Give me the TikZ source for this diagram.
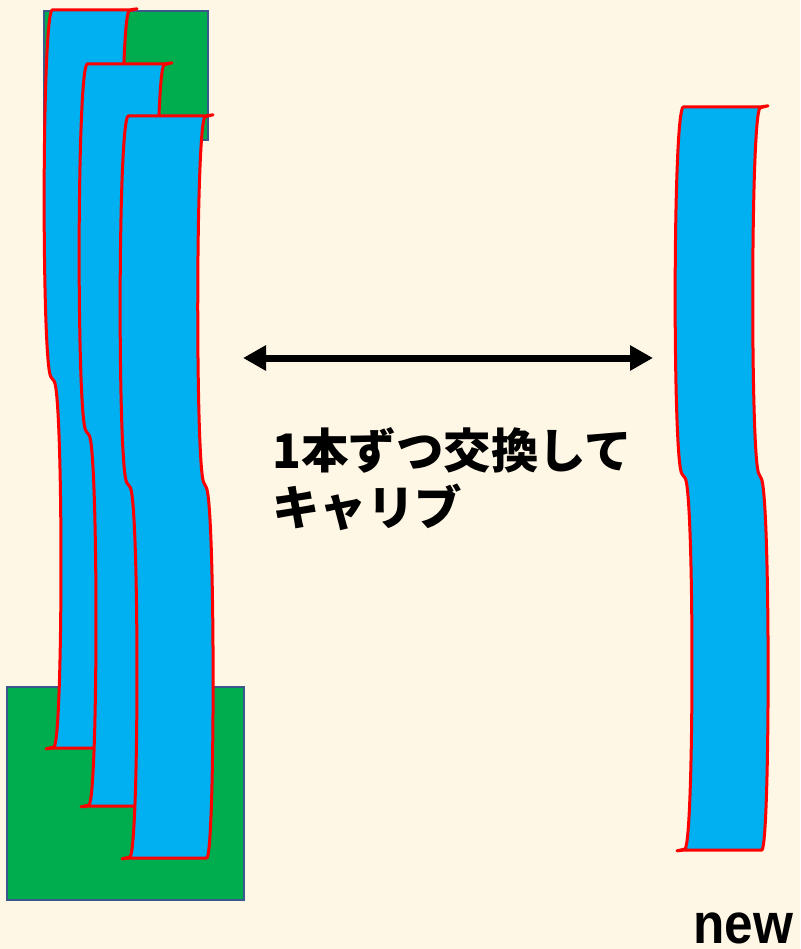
\documentclass[tikz,border=0pt]{standalone}
\usepackage{fontspec}
\setmainfont{Liberation Sans}
\newfontfamily\cjk{Noto Sans CJK JP}
\usetikzlibrary{arrows.meta}
\definecolor{bg}{HTML}{FFF7E5}
\definecolor{boardgreen}{HTML}{00AD4E}
\definecolor{boardedge}{HTML}{3A5A8E}
\definecolor{stripblue}{HTML}{00B0F0}
\newcommand\bandstrip[3]{%
  \begin{scope}[shift={(#1,#2)}]
    \path[stripstyle] (0,0) -- (77,0) -- (85,-1.2) -- (77,0.8)
      .. controls (67.5,10) and (67.5,357) .. (76,367) -- (78,371)
      .. controls (87.3,381) and (87.3,#3-10) .. (79,#3) -- (2,#3)
      -- (-6,#3+0.8) -- (2,#3-1)
      .. controls (11.3,#3-10) and (11.3,381) .. (2,371) -- (-1,367)
      .. controls (-10.3,357) and (-10.3,10) .. (0,0) -- cycle;
  \end{scope}}
\begin{document}
\begin{tikzpicture}[x=1pt,y=-1pt,
  stripstyle/.style={fill=stripblue,draw=red,line width=3pt,line join=round},
  board/.style={fill=boardgreen,draw=boardedge,line width=2.5pt},
  txt/.style={font=\cjk\bfseries\fontsize{47.5}{57}\selectfont,inner sep=0pt,anchor=base west},
  newtxt/.style={font=\bfseries\fontsize{57}{64}\selectfont,inner sep=0pt,anchor=base west,xscale=0.9,transform shape},
  swaparrow/.style={line width=7pt,{Triangle[length=23pt,width=24pt]}-{Triangle[length=23pt,width=24pt]}}]
\fill[bg] (0,0) rectangle (800,949);
\useasboundingbox (0,0) rectangle (800,949);
% boards
\path[board] (44,11) rectangle (208,140);
\path[board] (7,687) rectangle (244,900);
% strips on the left
\bandstrip{52}{10}{738}
\bandstrip{87}{64}{742}
\bandstrip{128}{116}{742}
% new strip on the right
\bandstrip{683}{107}{743}
% arrow
\coordinate (aL) at (243,358);
\coordinate (aR) at (653,358);
\draw[swaparrow] (aL) -- (aR);
% texts
\node[txt] (t1) at (272,468) {1本ずつ交換して};
\node[txt] (t2) at (272,525) {キャリブ};
\node[newtxt] (nw) at (693,943) {new};
\end{tikzpicture}
\end{document}
